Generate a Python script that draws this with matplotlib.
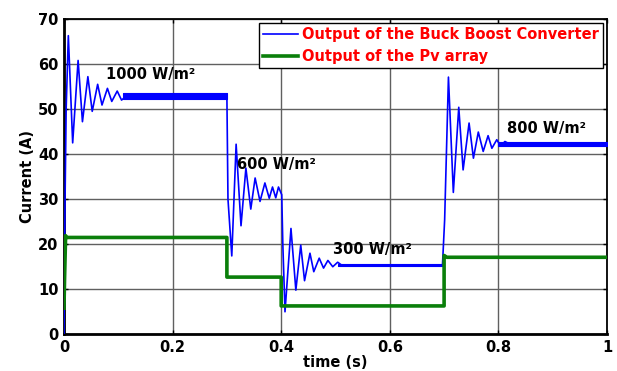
import matplotlib
matplotlib.use("Agg")
import matplotlib.pyplot as plt

plt.rcParams['font.family'] = ['DejaVu Sans']
plt.rcParams['font.weight'] = 'bold'

# Buck-boost converter output current (extrema)
t_conv = [0.0, 0.002, 0.004, 0.008, 0.016, 0.026, 0.034, 0.044, 0.052, 0.062, 0.070,
          0.080, 0.088, 0.098, 0.106, 0.115, 0.300,
          0.302, 0.309, 0.317, 0.326, 0.335, 0.344, 0.352, 0.361, 0.370, 0.378,
          0.384, 0.390, 0.395, 0.401,
          0.403, 0.407, 0.418, 0.427, 0.436, 0.443, 0.453, 0.460, 0.470, 0.478,
          0.486, 0.495, 0.504, 0.512, 0.520, 0.697,
          0.701, 0.708, 0.717, 0.727, 0.735, 0.746, 0.754, 0.763, 0.772, 0.781,
          0.788, 0.797, 0.804, 0.812, 0.820, 1.0]
i_conv = [0.0, 30.0, 50.0, 66.3, 42.5, 60.8, 47.2, 57.2, 49.5, 55.5, 50.9,
          54.6, 51.7, 54.0, 52.0, 52.9, 52.9,
          30.0, 17.4, 42.2, 24.1, 36.9, 27.8, 34.7, 29.5, 33.6, 30.2,
          32.7, 30.3, 32.7, 31.0,
          20.0, 5.0, 23.5, 9.8, 19.8, 11.9, 18.0, 13.9, 16.9, 14.7,
          16.4, 15.0, 16.0, 15.3, 15.4, 15.4,
          25.4, 57.1, 31.5, 50.4, 36.5, 46.9, 39.1, 44.9, 40.6, 44.1,
          41.3, 43.2, 41.8, 42.8, 42.3, 42.3]

# steady-state ripple bands of the converter output: start, end, low, high
ripple_start = [0.108, 0.505, 0.800]
ripple_end = [0.300, 0.697, 1.000]
ripple_low = [52.2, 15.1, 41.9]
ripple_high = [53.6, 15.7, 42.8]

# PV array output current
t_pv = [0.0, 0.001, 0.003, 0.005, 0.300, 0.300, 0.400, 0.400, 0.700, 0.700, 0.705, 1.0]
i_pv = [5.8, 12.0, 21.9, 21.5, 21.5, 12.7, 12.7, 6.3, 6.3, 17.5, 17.1, 17.1]

ann_text = ['1000 W/m²', '600 W/m²', '300 W/m²', '800 W/m²']
ann_t = [0.078, 0.319, 0.495, 0.816]
ann_i = [57.6, 37.6, 18.9, 45.6]

x_ticks = [0, 0.2, 0.4, 0.6, 0.8, 1]
x_ticklabels = ['0', '0.2', '0.4', '0.6', '0.8', '1']
y_ticks = [0, 10, 20, 30, 40, 50, 60, 70]

fig = plt.figure(figsize=(6.17, 3.71), dpi=100)
ax = fig.add_axes([0.1037, 0.0989, 0.8801, 0.8499])

blue = '#0000ff'
green = '#0a7f0a'
ax.plot(t_conv, i_conv, color=blue, lw=1.2, label='Output of the Buck Boost Converter', zorder=3)
for s, e, lo, hi in zip(ripple_start, ripple_end, ripple_low, ripple_high):
    ax.fill_between([s, e], [lo, lo], [hi, hi], color=blue, lw=0.8, zorder=3)
ax.plot(t_pv, i_pv, color=green, lw=2.6, label='Output of the Pv array', zorder=4)

for txt, tx, ty in zip(ann_text, ann_t, ann_i):
    ax.text(tx, ty, txt, fontsize=10.5, fontweight='bold', color='black',
            va='center', ha='left', zorder=5)

ax.set_xlim(0, 1)
ax.set_ylim(0, 70)
ax.set_xticks(x_ticks)
ax.set_xticklabels(x_ticklabels)
ax.set_yticks(y_ticks)
ax.tick_params(direction='in', top=True, right=True, labelsize=10.5, length=3, width=1, pad=4)
for lab in ax.get_xticklabels() + ax.get_yticklabels():
    lab.set_fontweight('bold')
ax.grid(True, color='#606060', lw=1.0)
ax.set_axisbelow(True)
for side in ['left', 'bottom']:
    ax.spines[side].set_linewidth(2.0)
for side in ['top', 'right']:
    ax.spines[side].set_linewidth(1.3)

ax.set_xlabel('time (s)', fontsize=10.5, fontweight='bold', labelpad=0)
ax.set_ylabel('Current (A)', fontsize=10.5, fontweight='bold', labelpad=2)

leg = ax.legend(loc='upper right', bbox_to_anchor=(0.993, 0.988), fontsize=10.5,
                frameon=True, fancybox=False, handlelength=2.4, handletextpad=0.25,
                borderpad=0.3, labelspacing=0.45, borderaxespad=0)
leg.get_frame().set_edgecolor('black')
leg.get_frame().set_linewidth(1.0)
leg.get_frame().set_alpha(1)
for txt in leg.get_texts():
    txt.set_color('red')
    txt.set_fontweight('bold')

fig.savefig('out.png', dpi=100)
